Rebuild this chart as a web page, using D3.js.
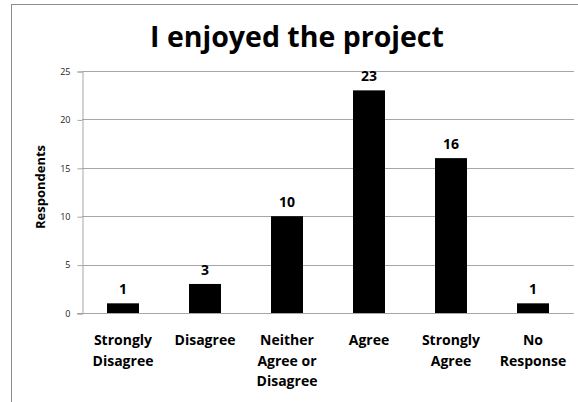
<!DOCTYPE html>
<html>
<head>
<meta charset="utf-8">
<script src="https://cdn.jsdelivr.net/npm/d3@7"></script>
<style>
  html, body { margin: 0; padding: 0; background: #fff; }
  svg { display: block; }
</style>
</head>
<body>
<svg id="chart" width="578" height="402"></svg>
<script>
const categories = [
  ["Strongly", "Disagree"],
  ["Disagree"],
  ["Neither", "Agree or", "Disagree"],
  ["Agree"],
  ["Strongly", "Agree"],
  ["No", "Response"]
];
const values = [1, 3, 10, 23, 16, 1];
const yTicks = [0, 5, 10, 15, 20, 25];
const titleText = "I enjoyed the project";
const yTitle = "Respondents";

(function () {
const svg = d3.select("#chart");
const font = "'Open Sans', 'DejaVu Sans', sans-serif";

// frame
svg.append("line").attr("x1", 11).attr("x2", 578).attr("y1", 4.5).attr("y2", 4.5)
  .attr("stroke", "#8c8c8c").attr("stroke-width", 1);
svg.append("line").attr("x1", 11.5).attr("x2", 11.5).attr("y1", 4).attr("y2", 402)
  .attr("stroke", "#8c8c8c").attr("stroke-width", 1);

const pLeft = 82, pRight = 574, pTop = 71, pBottom = 313;

const x = d3.scaleBand()
  .domain(d3.range(values.length))
  .range([pLeft, pRight])
  .paddingInner(0.61)
  .paddingOuter(0.305);

const y = d3.scaleLinear().domain([0, 25]).range([pBottom, pTop]);

// gridlines
svg.append("g").selectAll("line").data(yTicks.filter(d => d > 0)).join("line")
  .attr("x1", pLeft).attr("x2", pRight)
  .attr("y1", d => Math.round(y(d)) + 0.5).attr("y2", d => Math.round(y(d)) + 0.5)
  .attr("stroke", "#a6a6a6").attr("stroke-width", 1);

// y axis
const yAxis = d3.axisLeft(y).tickValues(yTicks).tickSize(5).tickPadding(7)
  .tickFormat(d3.format("d"));
const gy = svg.append("g").attr("transform", `translate(${pLeft + 0.5},0.5)`).call(yAxis);
gy.select(".domain").attr("stroke", "#a6a6a6");
gy.selectAll(".tick line").attr("stroke", "#a6a6a6");
gy.selectAll(".tick text").attr("font-family", font).attr("font-size", 9).attr("fill", "#222");

// x axis baseline
svg.append("line").attr("x1", pLeft - 5).attr("x2", pRight)
  .attr("y1", pBottom + 0.5).attr("y2", pBottom + 0.5)
  .attr("stroke", "#a6a6a6").attr("stroke-width", 1);

// bars
svg.append("g").selectAll("rect").data(values).join("rect")
  .attr("x", (d, i) => x(i))
  .attr("width", x.bandwidth())
  .attr("y", d => y(d))
  .attr("height", d => y(0) - y(d))
  .attr("fill", "#000");

// value labels
svg.append("g").selectAll("text").data(values).join("text")
  .attr("x", (d, i) => x(i) + x.bandwidth() / 2)
  .attr("y", d => y(d) - 9)
  .attr("text-anchor", "middle")
  .attr("font-family", font).attr("font-weight", "bold").attr("font-size", 14)
  .attr("fill", "#000")
  .text(d => d);

// category labels
const cl = svg.append("g").selectAll("text").data(categories).join("text")
  .attr("x", (d, i) => x(i) + x.bandwidth() / 2)
  .attr("y", 345)
  .attr("text-anchor", "middle")
  .attr("font-family", font).attr("font-weight", "bold").attr("font-size", 14)
  .attr("fill", "#000");
cl.each(function(d, i) {
  const t = d3.select(this);
  d.forEach((line, j) => {
    t.append("tspan").attr("x", x(i) + x.bandwidth() / 2).attr("y", 345 + j * 20.5).text(line);
  });
});

// title
svg.append("text").attr("x", 297).attr("y", 47)
  .attr("text-anchor", "middle")
  .attr("font-family", font).attr("font-weight", "bold").attr("font-size", 28.5)
  .attr("fill", "#000").text(titleText);

// y title
svg.append("text")
  .attr("transform", `translate(45,187) rotate(-90)`)
  .attr("text-anchor", "middle")
  .attr("font-family", font).attr("font-weight", "bold").attr("font-size", 13)
  .attr("fill", "#000").text(yTitle);
})();
</script>
</body>
</html>
